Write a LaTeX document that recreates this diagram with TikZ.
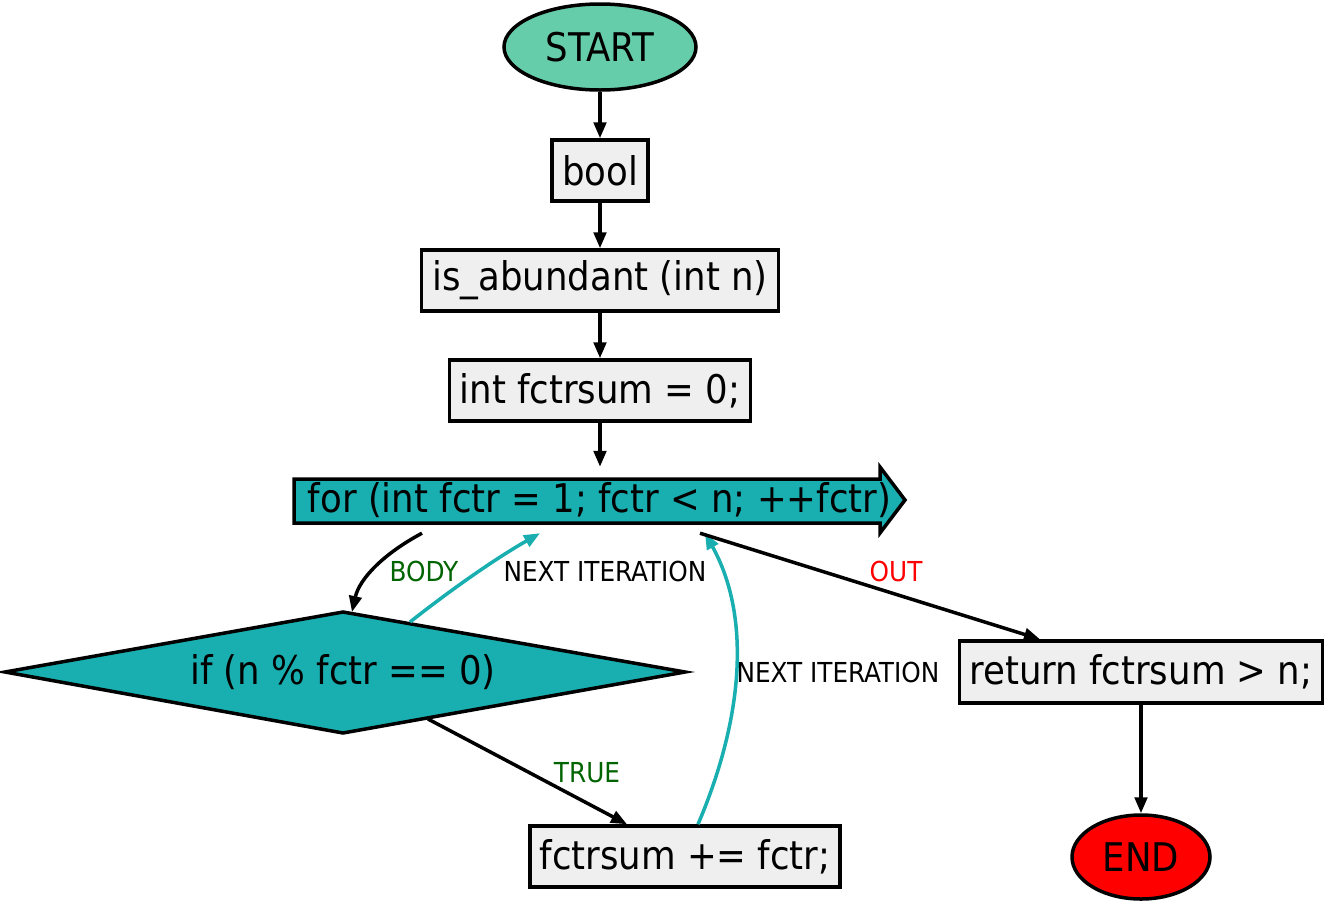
\documentclass[tikz,border=0pt]{standalone}
\usepackage{fontspec}
\setmainfont{DejaVu Sans Condensed}
\usetikzlibrary{arrows.meta,shapes.geometric,calc}
\definecolor{teal1}{HTML}{19AFB0}
\definecolor{boxgray}{HTML}{EFEFEF}
\definecolor{startgreen}{HTML}{66CDAA}
\definecolor{lblgreen}{HTML}{006400}
\tikzset{
  mainfont/.style={font=\fontsize{39.5}{44}\selectfont},
  box/.style={draw=black,line width=3.5pt,fill=boxgray,rectangle,minimum height=61pt,inner sep=0pt,mainfont},
  term/.style={draw=black,line width=3.5pt,ellipse,inner sep=0pt,mainfont},
  edge/.style={line width=3.5pt,-{Triangle[length=16pt,width=12.5pt]}},
  tedge/.style={edge,draw=teal1},
  lbl/.style={font=\fontsize{27.5}{30}\selectfont,inner sep=0pt}
}
\begin{document}
\begin{tikzpicture}[x=1pt,y=-1pt]
\useasboundingbox (0,0) rectangle (1328,906);
\fill[white] (0,0) rectangle (1328,906);
% nodes
\node[term,fill=startgreen,minimum width=192pt,minimum height=86pt] (start) at (600,47) {START};
\node[box,minimum width=96pt] (bool) at (600,170.5) {bool};
\node[box,minimum width=357pt] (isab) at (600,280.5) {is\_abundant (int n)};
\node[box,minimum width=301pt] (init) at (600,390.5) {int fctrsum = 0;};
\draw[line width=3.5pt,fill=teal1,line join=miter] (294,479) -- (880,479) -- (880,467) -- (905,500) -- (880,533) -- (880,523) -- (294,523) -- cycle;
\node[minimum width=611pt,minimum height=66pt,inner sep=0pt,mainfont] (for) at (599.5,500) {for (int fctr = 1; fctr < n; ++fctr)};
\draw[line width=3.5pt,fill=teal1] (5,672) -- (343,612) -- (685,672) -- (343,733) -- cycle;
\node[inner sep=0pt,mainfont] (cond) at (343,672) {if (n \% fctr == 0)};
\node[box,minimum width=310pt] (add) at (685,856.5) {fctrsum += fctr;};
\node[box,minimum width=363pt,minimum height=62pt] (ret) at (1141,672) {return fctrsum > n;};
\node[term,fill=red,minimum width=138pt,minimum height=84pt] (end) at (1141,857) {END};
% edges
\draw[edge] (start) -- (bool);
\draw[edge] (bool) -- (isab);
\draw[edge] (isab) -- (init);
\draw[edge] (init.south) -- ($(for.north)+(0.5,0)$);
\draw[edge] ($(for.south)+(-177.5,0)$) .. controls ($(for.south)+(-215,20)$) and ($(for.south)+(-240,45)$) .. ($(cond.center)+(9,-60)$);
\draw[tedge] ($(cond.center)+(67,-50)$) .. controls ($(cond.center)+(105,-80)$) and ($(cond.center)+(150,-112)$) .. ($(for.south)+(-59.5,0)$);
\draw[tedge] ($(add.north)+(13,0)$) .. controls ($(add.north)+(60,-110)$) and ($(add.north)+(65,-210)$) .. ($(for.south)+(105.5,0)$);
\draw[edge] ($(for.south)+(100.5,0)$) -- ($(ret.north)+(-101,0)$);
\draw[edge] ($(cond.center)+(85,47)$) -- ($(add.north)+(-58,0)$);
\draw[edge] (ret) -- (end);
% labels
\node[lbl,text=lblgreen] (lbody) at (424,571) {BODY};
\node[lbl] (lnext1) at (605,571) {NEXT ITERATION};
\node[lbl,text=red] (lout) at (896,571) {OUT};
\node[lbl] (lnext2) at (838,672) {NEXT ITERATION};
\node[lbl,text=lblgreen] (ltrue) at (587,773) {TRUE};
\end{tikzpicture}
\end{document}
